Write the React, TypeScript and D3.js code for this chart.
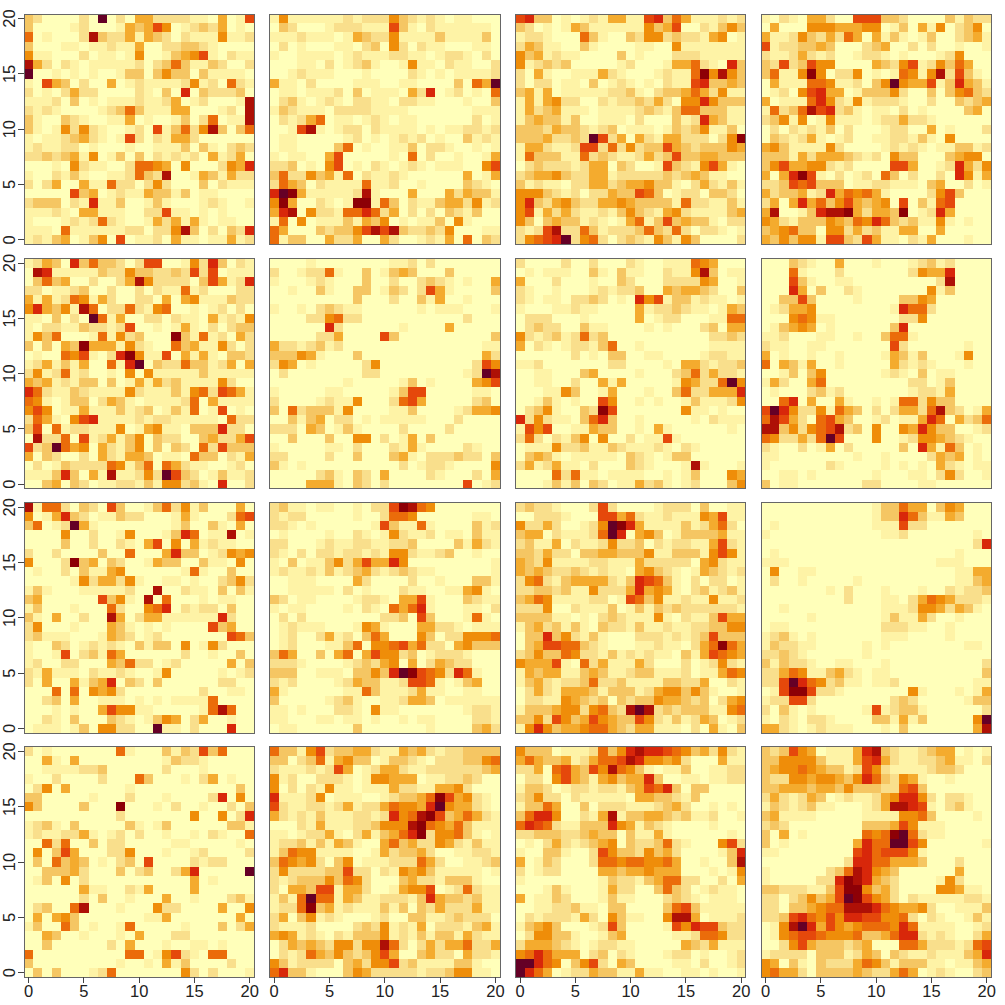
import React from "react";
import * as d3 from "d3";

// Each panel: rows from top (y=20) to bottom (y=0); one character per cell = colour level 0..b
const panel1 = [
"32000 020b0 20442 22211 04017","30000 12000 14347 50123 24010","60100 02932 24143 20211 15112","30001 10112 11400 22332 10000","51100 02011 01500 13457 10211",
"94202 10111 11202 36311 32002","b0010 10100 13303 53303 11110","10743 02004 01211 11251 20621","20102 42200 00210 30803 22230","11120 30101 11211 24012 00019",
"21210 00012 36311 14400 01209","31003 21001 14010 01302 60119","31015 25210 01207 13625 93036","10112 34210 17202 14420 00000","12112 20100 01001 11303 10232",
"22323 41501 30302 12120 41240","00010 52110 02665 40500 02548","10021 31001 12632 90014 31422","20240 04116 22025 20003 02111","00000 73401 21143 31301 10000",
"23330 21811 30013 10001 21001","11121 04411 10022 71101 01000","10001 21262 10014 24141 01100","11106 11111 12202 25930 20328","12134 01350 70112 04110 11412",
];
const panel2 = [
"15111 11121 22253 21210 11000","03200 01222 11173 10211 11110","11121 11014 32251 11131 11130","02010 00110 23052 02110 00110","10011 11012 11122 11012 21020",
"00011 02012 31001 51102 11002","00121 11000 10000 21010 11112","41102 00001 11001 10000 3064b","01101 11203 01110 42801 20106","02310 12102 21102 21100 01003",
"13211 10222 21111 00000 00111","02124 60110 12101 10000 00201","00179 10122 02111 10101 12212","01100 00012 01012 12010 03121","01100 00360 10011 30221 00101",
"10110 04700 00010 60200 10014","22301 05701 02101 21011 10057","36225 34160 21121 00000 04014","26430 21111 61120 01000 03210","8ba41 11112 91000 40004 24331",
"5a400 2101a a1630 21134 42512","48905 22166 86240 20203 21300","16050 11131 43501 01130 51000","64000 32335 79793 22325 00011","61330 04224 00420 01214 06032",
];
const panel3 = [
"78330 10121 44117 83641 11212","32010 14311 11115 34700 21353","12210 00631 00325 52322 14501","24311 00310 00011 00511 11111","53412 11000 03010 00222 11111",
"51232 30000 01200 01446 21083","20410 01114 21000 12116 a5953","20220 11030 12101 02117 83343","34140 11111 22310 23346 42511","14145 22002 12232 42055 85333",
"14234 11101 11123 21366 33311","13433 13001 11020 00312 84311","33324 33212 30111 01323 51130","33342 232b7 24042 14422 2025a","14421 12772 62523 37432 33354",
"16333 11623 21124 23733 44333","02322 21244 03200 17321 57410","23445 32244 12222 23234 31100","31211 02244 23445 33102 42131","55532 12022 43376 30122 03320",
"58324 53224 45433 33162 21131","57142 42112 13532 14521 11134","53034 33121 01461 37343 31022","21279 22631 22236 32620 22101","25678 b2562 02321 53153 00002",
];
const panel4 = [
"10210 44200 77733 20000 31322","04000 55544 45501 30415 02350","41125 32426 40413 10130 02341","71223 34300 02340 02020 01001","21124 21200 12210 10001 25000",
"32723 75500 00432 57125 36400","36115 a5022 50101 65159 27310","04111 66511 2035b 54471 38431","01205 78440 13335 20030 35632","40111 68521 51222 10020 03234",
"16236 97823 10110 20100 00340","23515 01511 10122 42210 00000","02021 21302 00012 20040 10002","03212 41012 00112 21310 50000","45311 11520 00012 12101 13312",
"33314 24443 21205 33000 34550","35744 55212 00007 74001 28425","4048a 71020 12063 02002 08514","22376 73330 11221 11034 00201","42334 12846 56410 00025 73000",
"24048 46357 43450 70316 70000","49001 3899a 42443 a0128 40000","54213 33543 65863 23115 10100","34563 30552 42311 44004 00000","43535 51773 27411 02140 00100",
];
const panel5 = [
"12430 83633 20277 00152 83021","09811 11132 25332 23272 70111","03634 00200 24952 22203 74128","22011 23002 00202 11612 00022","41412 65142 00220 40451 11322",
"58435 19602 26215 60010 12020","11030 20b61 40022 02110 41215","10221 13221 27001 01410 20233","15360 00161 52300 0a316 12042","30304 3a444 15210 06341 15202",
"01006 57102 8a511 70414 10332","12413 14006 18b03 22633 12404","25126 12001 05051 11113 11111","43412 13303 01414 23111 15200","86211 32111 15211 13156 27641",
"65101 33024 31011 11260 41111","57501 14111 31230 13160 17010","26410 57811 11212 21111 10622","37061 22111 50145 11033 38220","09226 07124 13503 22003 42247",
"723b6 45042 13503 03206 27333","40320 02042 14430 11063 30214","02013 22226 51360 64211 00120","11138 30419 11252 b7320 13112","00340 32011 22131 55231 08002",
];
const panel6 = [
"00001 00000 00011 20200 00000","20012 26100 30134 30003 00000","10001 21000 30020 02321 01004","00100 31003 30132 02741 00003","00000 00003 00020 03140 01000",
"10010 23211 00000 01011 10001","00002 25622 00000 00000 02000","00000 08200 00001 00004 00000","00000 22400 00730 00000 00003","42212 31200 00000 00000 00011",
"33354 10003 00000 00000 00042","25401 00000 25000 00000 00275","02000 00000 22000 00000 012b9","00000 00010 00001 30100 00457","10000 01100 00013 77000 00110",
"20000 12115 00026 74000 00230","30623 33150 00011 30000 12445","00313 40220 10111 11000 20000","22204 30131 00002 00002 00000","00300 03005 50201 40300 00000",
"10000 01102 00021 41000 02100","22000 02003 00034 10222 32203","31010 00000 00002 01221 00005","00000 23103 20400 00210 00204","00004 44103 20200 00000 07012",
];
const panel7 = [
"20000 20020 00210 01116 54000","01011 10031 03110 02115 93011","40002 00010 03200 02222 54001","21001 00012 12230 04344 32003","21011 02232 01085 71331 21101",
"10001 12110 00041 22321 10143","02220 00100 00040 12200 01166","02322 00311 00001 01000 23044","52123 12623 00000 00000 02232","40210 12213 60010 00000 01111",
"00000 02010 33001 10000 12211","11200 00000 22000 01044 21223","00110 00340 00010 00236 24221","00110 02004 14000 00154 226b5","00011 53001 40001 00362 24448",
"00131 01007 50010 10013 11125","02351 0032a 70000 00051 10100","82521 10368 30010 00001 02111","17570 01143 30010 41000 00010","26202 13505 00201 17100 00000",
"01115 22311 32111 21021 00000","03431 01111 10321 01330 00000","24124 11020 00321 00019 10001","00006 26110 11110 01013 00054","00013 13032 01142 31012 00035",
];
const panel8 = [
"00032 10040 00100 01231 20000","00061 00020 00000 02544 80000","00073 10011 00000 00002 90000","00084 03002 10000 00051 30000","00337 30000 10000 33540 00000",
"01244 50000 00001 86620 00000","00056 51100 00000 22500 00000","01345 40100 00003 80000 00000","11200 01100 10036 61000 00000","21100 11000 00007 20000 00100",
"40100 10010 00014 31300 01500","60431 40010 00004 21210 00100","00130 35000 00012 10301 10000","14200 46000 00000 02201 30000","01000 23120 00000 01221 40000",
"00680 40041 00101 66253 30000","7b852 25164 30202 44269 32014","69742 06743 00120 11486 04236","99352 56792 30500 54853 30012","65224 26b70 00500 12554 32100",
"21002 01402 00000 30841 63010","11000 00000 10010 00024 34010","10000 00210 00010 10104 21011","00110 10000 00100 01102 52001","30110 00000 02200 00110 00000",
];
const panel9 = [
"91662 03207 30013 62513 00040","50148 32011 32200 01410 00267","36012 b4100 00000 01300 31040","00005 00200 15000 13860 11901","00003 00200 21047 05041 21100",
"20020 00030 06000 48330 12545","50002 a3403 20014 33003 11050","01002 03114 50000 00161 00300","00000 15244 25100 11010 02352","13100 01111 12009 00211 03031",
"34000 00073 51090 60001 01100","13000 10006 20056 80212 20300","31040 02009 40244 11111 18200","25000 10004 31010 10000 73400","23111 00014 32012 00000 00763",
"10032 01212 10313 30501 52000","10017 02316 40000 00200 10030","12002 20004 36220 12000 00403","21411 10211 21001 50000 01012","20400 41348 03203 00000 02200",
"00060 60545 20000 00002 00110","00230 40011 10101 01111 60000","00010 10047 55110 00001 69600","00210 30003 21013 54024 00100","01110 13055 2200b 11020 00800",
];
const panel10 = [
"23110 11001 0227a 96500 00000","21220 00001 00266 50000 00110","22101 00000 01731 16100 00312","01000 01002 10152 11201 10311","22000 12112 21122 30000 31421",
"21020 22122 12155 21123 00100","10301 13524 74485 00000 00001","12112 13123 42123 21100 00001","00111 00004 20000 20010 00331","00111 11020 10002 11001 14510",
"32011 00001 22104 47100 03211","10110 00010 21064 68100 01102","02020 00000 00223 07300 01610","01211 10001 54100 04422 10111","01200 24120 36400 05302 25556",
"01200 01136 05567 46220 45333","36400 30460 47552 30122 21000","22210 00012 32450 40243 22000","33300 11103 3538b a7652 86100","21200 00124 33112 77610 13400",
"41000 00011 63111 24110 01100","30000 01231 00112 44301 11111","11010 00221 05110 00000 01221","11000 11011 01001 01100 00221","01100 00003 00000 00100 00342",
];
const panel11 = [
"23221 00027 20000 12220 30011","00222 10007 74621 12111 54711","52242 00125 ba841 11131 24620","34402 11126 b8045 30133 33411","23114 02112 52230 21221 14721",
"33242 20334 43335 11333 15751","43251 11122 11142 22220 45211","43432 23212 11045 32101 43212","25621 34444 21387 63102 02201","22332 31152 22484 54102 31231",
"34651 11122 01763 51121 15112","22250 02111 30131 32322 22221","33331 10102 32111 51021 13744","13423 13103 22131 12112 23355","03383 52131 00022 21212 37333",
"03477 66321 00011 21102 46a64","23533 65221 31212 11031 47654","54447 10624 11142 00020 12521","14344 11343 11233 11120 11465","13421 22362 23111 13322 40021",
"02421 44431 33312 45535 31001","02211 54323 03233 54432 30245","13334 55256 329b9 23233 31156","33527 53475 43375 21312 43012","15853 44566 43244 11102 04103",
];
const panel12 = [
"00000 00000 00133 64403 54000","00000 00000 00133 86311 43000","01000 00000 00111 72200 00000","10000 00000 00011 20000 00010","00000 00000 00000 00000 00028",
"01000 00000 00000 00000 01000","11100 00000 00000 00001 11000","05001 10000 00000 00000 01144","02001 00000 10000 00000 01134","00000 00102 00010 00100 21223",
"00000 00002 00011 02465 42221","00100 00000 00011 12554 24310","00000 10000 00013 11420 01000","01100 00000 00022 21100 10000","12310 10000 00011 10000 10000",
"13221 10000 01010 00000 00110","22321 00000 01000 00000 00000","31322 10011 00010 00000 00002","22465 11342 10110 00000 00003","227b8 65231 10112 00000 00011",
"017aa 72210 00000 05100 01014","12277 20000 00002 32000 00133","20310 10000 01712 33100 00002","10210 22100 00331 41300 0005b","44210 12111 00010 30000 00049",
];
const panel13 = [
"20100 00000 61000 31327 36000","00410 40000 00000 13221 00000","00111 12230 00000 20001 00000","10020 00020 00630 00102 40100","02504 00000 01000 00000 00030",
"33000 00100 02000 10000 28050","53000 03000 a0001 02001 00203","00000 00000 20000 00050 05028","12310 30000 03101 30000 00331","12112 24101 20200 10010 21006",
"00626 00302 20000 01100 00010","05037 40002 25000 10012 00002","03063 43010 23070 00021 22000","00333 42000 30230 02480 0000b","01305 02000 00000 00040 10000",
"00000 04110 02140 00040 00000","00000 02030 01000 40010 00231","02300 69000 10005 22000 04005","04045 30000 00011 40000 00040","13006 30100 16000 00100 03024",
"00430 01000 10400 02200 00000","00300 00002 04000 10011 01000","60000 00000 06601 57210 66000","30000 00000 10010 41300 00200","03030 00126 00000 00520 20001",
];
const panel14 = [
"63315 72334 42114 34212 23333","33023 61453 30133 21022 23356","21112 12740 12442 11222 22234","51200 22210 15544 40112 23200","50202 15110 11142 21144 52000",
"81112 50111 00123 346a7 45210","72112 21241 22465 548b5 44210","42121 31112 2128 5 69a73 46421","00021 41112 23555 9a654 63111","11012 24102 41346 8a255 63101",
"12231 31431 00463 42254 21311","13655 11110 01423 34200 11221","36545 20350 11122 26420 01123","25222 23372 20215 45311 11101","21233 35365 20003 42213 33100",
"20443 77144 20014 55701 26211","1316b 66143 11222 13843 32311","1226a 34121 11313 03242 22411","24035 12100 01200 33112 32220","21112 00002 32512 14022 21341",
"45412 10213 33512 13133 14211","02434 32552 55962 02424 46224","02126 43532 35740 03422 04221","53122 22034 25572 31111 33100","68331 00035 42222 21223 55110",
];
const panel15 = [
"53330 11126 35898 87653 42521","46433 41246 67985 54520 00411","22406 74375 96531 01130 01122","02205 74314 53448 30011 01122","13320 12212 21347 68303 30000",
"23522 02111 11044 33213 00000","13364 00302 22111 23420 01010","36885 00214 91334 43231 12001","68762 11333 85413 21000 01000","22333 22343 30311 41000 00010",
"01024 21234 50322 36210 00572","10033 10027 53325 34200 00138","40132 00026 65665 56400 10039","20122 00004 43445 44400 01015","10000 00001 32213 46622 00204",
"00013 10001 42200 36320 12110","40113 20001 31100 02321 01110","00112 23110 33000 03673 11111","02122 21420 53110 05994 01112","13453 00012 73000 01758 77322",
"02553 31001 34000 00112 66522","24443 21012 21100 00043 24111","56864 44023 02100 01220 10012","bb865 03572 04300 00110 20012","b8640 12243 31141 10011 01001",
];
const panel16 = [
"32375 40111 48932 11234 40101","33555 53111 47842 11223 41102","34556 54331 27521 11123 32000","32255 45543 58632 54100 10000","33444 34435 33322 67300 00000",
"24212 43012 11245 88520 22100","13212 31100 01249 98710 23100","34111 10000 01111 55630 00010","23200 00000 03334 75111 00000","30401 00000 0656a b6211 00000",
"30100 00000 4866b b7500 00001","11000 00000 78677 75100 00000","00000 00002 88664 44300 02000","10000 00236 98543 00000 04000","10000 02 28a 98432 00001 52000",
"33222 1137a a5342 00005 54110","22023 5347b a7542 02111 11221","22033 45669 99865 44520 01113","22378 65758 87755 62021 00131","0159b 84754 56665 86111 10012",
"01567 76555 63346 88212 10024","00257 43332 34000 66422 21267","12222 03331 24303 21121 11348","54031 03222 46531 33311 01134","56442 03333 43224 64012 10023",
];

const panels = [
  panel1, panel2, panel3, panel4,
  panel5, panel6, panel7, panel8,
  panel9, panel10, panel11, panel12,
  panel13, panel14, panel15, panel16,
];
const palette = ["#FFFFBA","#FEF3A6","#F9DF8C","#F5C663","#F4AB2E","#EF8D09","#EB6C0A","#E5480B","#D8270A","#AE1006","#8D0006","#650026"];
const tickValues = [0, 5, 10, 15, 20];
const gridCount = 25;
const lefts = [24, 269.6, 515.4, 761];
const tops = [14, 258.4, 502.6, 746.8];
const panelSize = 230.4;

const grid = d3.range(gridCount).map((i) => (i * 20) / (gridCount - 1));
const half = 20 / (gridCount - 1) / 2;
const color = d3.scaleOrdinal<string, string>().domain("0123456789ab".split("")).range(palette);
const font = "'Liberation Sans', Arial, sans-serif";

function Panel({ rows, col, row }: { rows: string[]; col: number; row: number }) {
  const x = d3.scaleLinear().domain([-half, 20 + half]).range([lefts[col], lefts[col] + panelSize]);
  const y = d3.scaleLinear().domain([-half, 20 + half]).range([tops[row] + panelSize, tops[row]]);
  return (
    <g>
      {rows.map((line, r) => {
        const text = line.replace(/ /g, "");
        return grid.map((gx, c) => {
          const gy = grid[gridCount - 1 - r];
          const ch = text[c] ?? "0";
          return (
            <rect
              key={`${r}-${c}`}
              x={x(gx - half)}
              y={y(gy + half)}
              width={x(gx + half) - x(gx - half) + 0.3}
              height={y(gy - half) - y(gy + half) + 0.3}
              fill={color(ch)}
            />
          );
        });
      })}
      <rect x={x.range()[0]} y={y.range()[1]} width={panelSize} height={panelSize} fill="none" stroke="#666" strokeWidth={1} />
      {col === 0 &&
        tickValues.map((t) => (
          <g key={t}>
            <line x1={x.range()[0] - 6} x2={x.range()[0]} y1={y(t)} y2={y(t)} stroke="#444" />
            <text
              transform={`translate(15,${y(t)}) rotate(-90)`}
              textAnchor="middle"
              fontFamily={font}
              fontSize={16.5}
              fill="#222"
            >
              {t}
            </text>
          </g>
        ))}
      {row === 3 &&
        tickValues.map((t) => (
          <g key={t}>
            <line x1={x(t)} x2={x(t)} y1={y.range()[0]} y2={y.range()[0] + 6} stroke="#444" />
            <text x={x(t)} y={997} textAnchor="middle" fontFamily={font} fontSize={16.5} fill="#222">
              {t}
            </text>
          </g>
        ))}
    </g>
  );
}

export default function App() {
  return (
    <svg
      width={1005}
      height={1005}
      viewBox="0 0 1005 1005"
      style={{ position: "absolute", left: 0, top: 0, display: "block", background: "#fff" }}
      shapeRendering="crispEdges"
    >
      {panels.map((rows, i) => (
        <Panel key={i} rows={rows} col={i % 4} row={Math.floor(i / 4)} />
      ))}
    </svg>
  );
}
